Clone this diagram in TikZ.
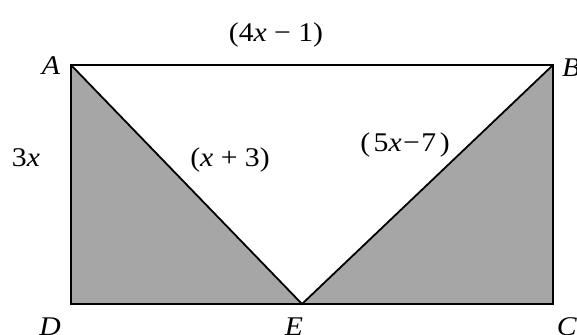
\documentclass[tikz,border=0pt]{standalone}
\usepackage{fontspec}
\setmainfont{Liberation Serif}
\begin{document}
\begin{tikzpicture}[x=1pt,y=-1pt,
  lbl/.style={inner sep=0pt,font=\fontsize{27}{30}\selectfont},
  edge/.style={draw=black,line width=1.8pt},
  shade/.style={fill=black!35}]
\useasboundingbox (0,0) rectangle (577,334);
\coordinate (A) at (71,65);
\coordinate (B) at (553,65);
\coordinate (C) at (553,304);
\coordinate (D) at (71,304);
\coordinate (E) at (302,304);
\fill[shade] (A) -- (E) -- (D) -- cycle;
\fill[shade] (B) -- (C) -- (E) -- cycle;
\draw[edge,line join=miter] (A) -- (B) -- (C) -- (D) -- cycle;
\draw[edge] (A) -- (E) -- (B);
\node[lbl] (lA) at (51,66) {\scalebox{1.1}[1]{\textit{A}}};
\node[lbl,anchor=west] (lB) at (562,68) {\scalebox{1.1}[1]{\textit{B}}};
\node[lbl] (lD) at (50,327) {\scalebox{1.1}[1]{\textit{D}}};
\node[lbl] (lE) at (294,327) {\scalebox{1.1}[1]{\textit{E}}};
\node[lbl] (lC) at (567,327) {\scalebox{1.1}[1]{\textit{C}}};
\node[lbl] (t1) at (276,35) {\scalebox{1.1}[1]{(4\textit{x} − 1)}};
\node[lbl] (t2) at (26,158) {\scalebox{1.1}[1]{3\textit{x}}};
\node[lbl] (t3) at (230,160) {\scalebox{1.1}[1]{(\textit{x} + 3)}};
\node[lbl] (t4) at (405,145) {\scalebox{1.1}[1]{(\hspace{0.12em}5\textit{x}\hspace{0.05em}−\hspace{0.05em}7\hspace{0.12em})}};
\end{tikzpicture}
\end{document}
